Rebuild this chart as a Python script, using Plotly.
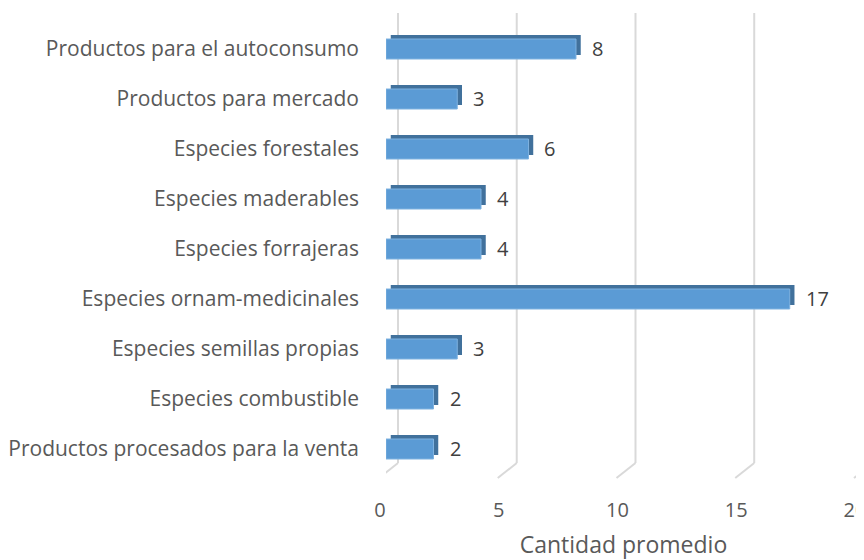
"""Cantidad promedio por tipo de producto/especie - barras horizontales estilo 3D"""
import plotly.graph_objects as go

categorias = [
    'Productos para el autoconsumo',
    'Productos para mercado',
    'Especies forestales',
    'Especies maderables',
    'Especies forrajeras',
    'Especies ornam-medicinales',
    'Especies semillas propias',
    'Especies combustible',
    'Productos procesados para la venta',
]
valores = [8, 3, 6, 4, 4, 17, 3, 2, 2]
ticks_x = [0, 5, 10, 15, 20]

COLORS = {
    'front': '#5B9BD5',
    'edge': '#41719C',
    'grid': '#D9D9D9',
    'text': '#595959',
    'label': '#404040',
}
FONT = 'Open Sans'

fig = go.Figure()

# dark "depth" bar behind (top + right side faces)
fig.add_trace(go.Bar(
    y=categorias,
    x=valores,
    base=0.2,
    orientation='h',
    width=0.4,
    offset=-0.28,
    marker=dict(color=COLORS['edge'], line=dict(width=0)),
    hoverinfo='skip',
))

# front face
fig.add_trace(go.Bar(
    y=categorias,
    x=valores,
    orientation='h',
    width=0.4,
    offset=-0.2,
    marker=dict(color=COLORS['front'], line=dict(color='#7FB2E0', width=1)),
    hovertemplate='<b>%{y}</b><br>%{x}<extra></extra>',
))

# value labels
annotations = [
    dict(x=v, y=c, xref='x', yref='y', text=str(v), showarrow=False,
         xanchor='left', xshift=14, yshift=1,
         font=dict(family=FONT, size=20, color=COLORS['label']))
    for c, v in zip(categorias, valores)
]

# back-plane gridlines with the oblique floor segment
shapes = []
for t in ticks_x:
    shapes.append(dict(
        type='line', xref='x', yref='paper',
        xsizemode='pixel', ysizemode='pixel', xanchor=t, yanchor=0,
        x0=12, x1=12, y0=11, y1=461,
        line=dict(color=COLORS['grid'], width=2), layer='below',
    ))
    shapes.append(dict(
        type='line', xref='x', yref='paper',
        xsizemode='pixel', ysizemode='pixel', xanchor=t, yanchor=0,
        x0=12, x1=-7, y0=11, y1=-4,
        line=dict(color=COLORS['grid'], width=2), layer='below',
    ))

# page body adds an 8px offset, so the figure is slightly smaller than the window
fig.update_layout(
    width=856,
    height=552,
    margin=dict(l=378, r=3, t=16, b=86),
    paper_bgcolor='white',
    plot_bgcolor='white',
    barmode='overlay',
    showlegend=False,
    shapes=shapes,
    annotations=annotations,
    font=dict(family=FONT, color=COLORS['text']),
    xaxis=dict(
        range=[0, 20.001],
        tickvals=ticks_x,
        automargin=False,
        showgrid=False,
        zeroline=False,
        showline=False,
        ticks='',
        ticklabelshift=-6,
        ticklabelstandoff=22,
        ticklabeloverflow='allow',
        tickfont=dict(family=FONT, size=20, color=COLORS['text']),
        title=dict(text='Cantidad promedio', standoff=14,
                   font=dict(family=FONT, size=23, color=COLORS['text'])),
    ),
    yaxis=dict(
        autorange='reversed',
        automargin=False,
        showgrid=False,
        zeroline=False,
        showline=False,
        ticks='',
        ticklabelstandoff=26,
        tickfont=dict(family=FONT, size=21, color=COLORS['text']),
    ),
)

fig.write_html('out.html')
